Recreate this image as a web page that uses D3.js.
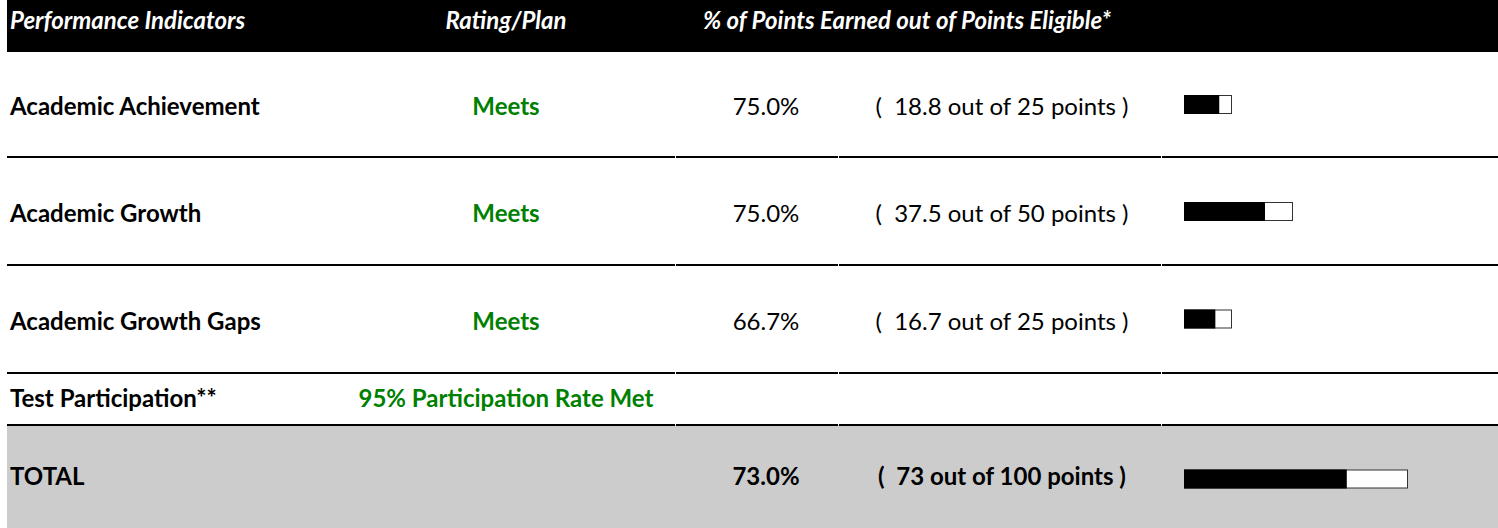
<!DOCTYPE html>
<html>
<head>
<meta charset="utf-8">
<script src="https://cdn.jsdelivr.net/npm/d3@7"></script>
<style>
  body { margin: 0; background: #fff; }
  svg text { font-family: Lato, "Noto Sans", sans-serif; font-size: 24px; }
</style>
</head>
<body>
<svg id="chart"></svg>
<script>
// Data
const headers = ["Performance Indicators", "Rating/Plan", "% of Points Earned out of Points Eligible*"];
const indicators = ["Academic Achievement", "Academic Growth", "Academic Growth Gaps"];
const ratings = ["Meets", "Meets", "Meets"];
const percents = [75.0, 75.0, 66.7];
const earned = [18.8, 37.5, 16.7];
const eligible = [25, 50, 25];
const participationLabel = "Test Participation**";
const participationRating = "95% Participation Rate Met";
const totalLabel = "TOTAL";
const totalPercent = 73.0;
const totalEarned = 73;
const totalEligible = 100;

// Chart dimensions
const width = 1498;
const height = 528;
const green = "#008000";

const svg = d3.select("#chart")
  .attr("width", width)
  .attr("height", height);

// Row layout (top edges)
const headerH = 52;
const rowTops = [52, 158, 266];
const rowH = [106, 108, 107];
const partTop = 373, partH = 52;
const totalTop = 425, totalH = height - 425;

// Column positions
const xLabel = 10;
const xRating = 506;
const xPct = 766;
const xPts = 1002;
const xBar = 1184;
const colBreaks = [7, 675, 838, 1161, width];

// Bar scale (box width per points eligible)
const barScale = d3.scaleLinear()
  .domain([0, 25, 50, 100])
  .range([0, 47, 108, 223]);
const barH = 18;

// Header band
svg.append("rect")
  .attr("x", 7).attr("y", 0)
  .attr("width", width - 7).attr("height", headerH)
  .attr("fill", "#000");

const headerX = [xLabel, xRating, 907];
const headerAnchor = ["start", "middle", "middle"];
svg.selectAll(".header")
  .data(headers)
  .enter()
  .append("text")
  .attr("class", "header")
  .attr("x", (d, i) => headerX[i])
  .attr("y", 21)
  .attr("dy", "0.35em")
  .attr("text-anchor", (d, i) => headerAnchor[i])
  .attr("fill", "#fff")
  .style("font-style", "italic")
  .style("font-weight", "bold")
  .text(d => d);

// Total band
svg.append("rect")
  .attr("x", 7).attr("y", totalTop)
  .attr("width", width - 7).attr("height", totalH)
  .attr("fill", "#cccccc");

// Separator lines, broken at the cell borders
function hline(y, w) {
  for (let i = 0; i < colBreaks.length - 1; i++) {
    svg.append("line")
      .attr("x1", colBreaks[i] + (i ? 1 : 0))
      .attr("x2", colBreaks[i + 1])
      .attr("y1", y).attr("y2", y)
      .attr("stroke", "#000")
      .attr("stroke-width", w);
  }
}
hline(157, 2);
hline(265, 2);
hline(373, 2);
hline(425, 2);

// Progress bar
function drawBar(cy, pct, pts) {
  const w = barScale(pts);
  const y = cy - barH / 2;
  svg.append("rect")
    .attr("x", xBar + 0.5).attr("y", y + 0.5)
    .attr("width", w).attr("height", barH)
    .attr("fill", "#fff")
    .attr("stroke", "#333")
    .attr("stroke-width", 1);
  svg.append("rect")
    .attr("x", xBar).attr("y", y)
    .attr("width", w * pct / 100).attr("height", barH + 1)
    .attr("fill", "#000");
}

// Indicator rows
indicators.forEach((name, i) => {
  const cy = rowTops[i] + rowH[i] / 2 + 2;
  svg.append("text")
    .attr("x", xLabel).attr("y", cy).attr("dy", "0.35em")
    .style("font-weight", "bold")
    .text(name);
  svg.append("text")
    .attr("x", xRating).attr("y", cy).attr("dy", "0.35em")
    .attr("text-anchor", "middle")
    .attr("fill", green)
    .style("font-weight", "bold")
    .text(ratings[i]);
  svg.append("text")
    .attr("x", xPct).attr("y", cy).attr("dy", "0.35em")
    .attr("text-anchor", "middle")
    .text(percents[i].toFixed(1) + "%");
  svg.append("text")
    .attr("x", xPts).attr("y", cy).attr("dy", "0.35em")
    .attr("text-anchor", "middle")
    .attr("xml:space", "preserve")
    .text(`(  ${earned[i].toFixed(1)} out of ${eligible[i]} points )`);
  drawBar(cy - 3, percents[i], eligible[i]);
});

// Participation row
const pcy = partTop + partH / 2;
svg.append("text")
  .attr("x", xLabel).attr("y", pcy).attr("dy", "0.35em")
  .style("font-weight", "bold")
  .text(participationLabel);
svg.append("text")
  .attr("x", xRating).attr("y", pcy).attr("dy", "0.35em")
  .attr("text-anchor", "middle")
  .attr("fill", green)
  .style("font-weight", "bold")
  .text(participationRating);

// Total row
const tcy = totalTop + totalH / 2;
svg.append("text")
  .attr("x", xLabel).attr("y", tcy).attr("dy", "0.35em")
  .style("font-weight", "bold")
  .text(totalLabel);
svg.append("text")
  .attr("x", xPct).attr("y", tcy).attr("dy", "0.35em")
  .attr("text-anchor", "middle")
  .style("font-weight", "bold")
  .text(totalPercent.toFixed(1) + "%");
svg.append("text")
  .attr("x", xPts).attr("y", tcy).attr("dy", "0.35em")
  .attr("text-anchor", "middle")
  .attr("xml:space", "preserve")
  .style("font-weight", "bold")
  .text(`(  ${totalEarned} out of ${totalEligible} points )`);
drawBar(tcy + 2, totalPercent, totalEligible);
</script>
</body>
</html>
